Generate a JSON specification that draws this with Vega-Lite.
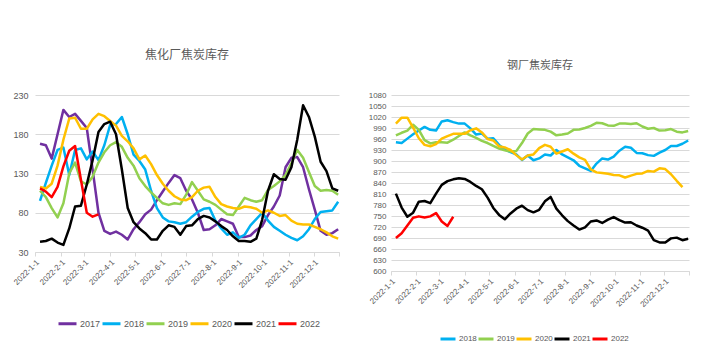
{
"$schema": "https://vega.github.io/schema/vega-lite/v6.json",
"background": "white",
"padding": {"left": 12, "top": 49, "right": 5, "bottom": 5},
"spacing": 23,
"datasets": {
"coke": [
{"s":"2017","d":"2022-01-07","v":168},{"s":"2017","d":"2022-01-14","v":166},{"s":"2017","d":"2022-01-21","v":149},{"s":"2017","d":"2022-01-28","v":180},{"s":"2017","d":"2022-02-04","v":211},{"s":"2017","d":"2022-02-11","v":202},{"s":"2017","d":"2022-02-18","v":206},{"s":"2017","d":"2022-02-25","v":197},{"s":"2017","d":"2022-03-04","v":188},{"s":"2017","d":"2022-03-11","v":135},
{"s":"2017","d":"2022-03-18","v":80},{"s":"2017","d":"2022-03-25","v":57},{"s":"2017","d":"2022-04-01","v":53},{"s":"2017","d":"2022-04-08","v":56},{"s":"2017","d":"2022-04-15","v":52},{"s":"2017","d":"2022-04-22","v":46},{"s":"2017","d":"2022-04-29","v":59},{"s":"2017","d":"2022-05-06","v":68},{"s":"2017","d":"2022-05-13","v":78},{"s":"2017","d":"2022-05-20","v":84},
{"s":"2017","d":"2022-05-27","v":96},{"s":"2017","d":"2022-06-03","v":107},{"s":"2017","d":"2022-06-10","v":118},{"s":"2017","d":"2022-06-17","v":128},{"s":"2017","d":"2022-06-24","v":124},{"s":"2017","d":"2022-07-01","v":108},{"s":"2017","d":"2022-07-08","v":97},{"s":"2017","d":"2022-07-15","v":80},{"s":"2017","d":"2022-07-22","v":58},{"s":"2017","d":"2022-07-29","v":59},
{"s":"2017","d":"2022-08-05","v":64},{"s":"2017","d":"2022-08-12","v":72},{"s":"2017","d":"2022-08-19","v":69},{"s":"2017","d":"2022-08-26","v":66},{"s":"2017","d":"2022-09-02","v":49},{"s":"2017","d":"2022-09-09","v":49},{"s":"2017","d":"2022-09-16","v":51},{"s":"2017","d":"2022-09-23","v":58},{"s":"2017","d":"2022-09-30","v":63},{"s":"2017","d":"2022-10-07","v":77},
{"s":"2017","d":"2022-10-14","v":88},{"s":"2017","d":"2022-10-21","v":102},{"s":"2017","d":"2022-10-28","v":138},{"s":"2017","d":"2022-11-04","v":150},{"s":"2017","d":"2022-11-11","v":151},{"s":"2017","d":"2022-11-18","v":138},{"s":"2017","d":"2022-11-25","v":110},{"s":"2017","d":"2022-12-02","v":84},{"s":"2017","d":"2022-12-09","v":57},{"s":"2017","d":"2022-12-16","v":52},
{"s":"2017","d":"2022-12-23","v":54},{"s":"2017","d":"2022-12-30","v":59},
{"s":"2018","d":"2022-01-07","v":95},{"s":"2018","d":"2022-01-14","v":118},{"s":"2018","d":"2022-01-21","v":140},{"s":"2018","d":"2022-01-28","v":160},{"s":"2018","d":"2022-02-04","v":163},{"s":"2018","d":"2022-02-11","v":128},{"s":"2018","d":"2022-02-18","v":160},{"s":"2018","d":"2022-02-25","v":162},{"s":"2018","d":"2022-03-04","v":148},{"s":"2018","d":"2022-03-11","v":158},
{"s":"2018","d":"2022-03-18","v":147},{"s":"2018","d":"2022-03-25","v":166},{"s":"2018","d":"2022-04-01","v":192},{"s":"2018","d":"2022-04-08","v":193},{"s":"2018","d":"2022-04-15","v":202},{"s":"2018","d":"2022-04-22","v":180},{"s":"2018","d":"2022-04-29","v":154},{"s":"2018","d":"2022-05-06","v":146},{"s":"2018","d":"2022-05-13","v":135},{"s":"2018","d":"2022-05-20","v":108},
{"s":"2018","d":"2022-05-27","v":86},{"s":"2018","d":"2022-06-03","v":74},{"s":"2018","d":"2022-06-10","v":69},{"s":"2018","d":"2022-06-17","v":68},{"s":"2018","d":"2022-06-24","v":66},{"s":"2018","d":"2022-07-01","v":68},{"s":"2018","d":"2022-07-08","v":75},{"s":"2018","d":"2022-07-15","v":81},{"s":"2018","d":"2022-07-22","v":85},{"s":"2018","d":"2022-07-29","v":86},
{"s":"2018","d":"2022-08-05","v":70},{"s":"2018","d":"2022-08-12","v":60},{"s":"2018","d":"2022-08-19","v":52},{"s":"2018","d":"2022-08-26","v":55},{"s":"2018","d":"2022-09-02","v":48},{"s":"2018","d":"2022-09-09","v":52},{"s":"2018","d":"2022-09-16","v":64},{"s":"2018","d":"2022-09-23","v":72},{"s":"2018","d":"2022-09-30","v":80},{"s":"2018","d":"2022-10-07","v":70},
{"s":"2018","d":"2022-10-14","v":62},{"s":"2018","d":"2022-10-21","v":57},{"s":"2018","d":"2022-10-28","v":52},{"s":"2018","d":"2022-11-04","v":48},{"s":"2018","d":"2022-11-11","v":45},{"s":"2018","d":"2022-11-18","v":50},{"s":"2018","d":"2022-11-25","v":59},{"s":"2018","d":"2022-12-02","v":72},{"s":"2018","d":"2022-12-09","v":81},{"s":"2018","d":"2022-12-16","v":82},
{"s":"2018","d":"2022-12-23","v":83},{"s":"2018","d":"2022-12-30","v":94},
{"s":"2019","d":"2022-01-07","v":108},{"s":"2019","d":"2022-01-14","v":100},{"s":"2019","d":"2022-01-21","v":86},{"s":"2019","d":"2022-01-28","v":74},{"s":"2019","d":"2022-02-04","v":92},{"s":"2019","d":"2022-02-11","v":130},{"s":"2019","d":"2022-02-18","v":144},{"s":"2019","d":"2022-02-25","v":120},{"s":"2019","d":"2022-03-04","v":116},{"s":"2019","d":"2022-03-11","v":126},
{"s":"2019","d":"2022-03-18","v":144},{"s":"2019","d":"2022-03-25","v":157},{"s":"2019","d":"2022-04-01","v":166},{"s":"2019","d":"2022-04-08","v":170},{"s":"2019","d":"2022-04-15","v":164},{"s":"2019","d":"2022-04-22","v":150},{"s":"2019","d":"2022-04-29","v":140},{"s":"2019","d":"2022-05-06","v":124},{"s":"2019","d":"2022-05-13","v":114},{"s":"2019","d":"2022-05-20","v":106},
{"s":"2019","d":"2022-05-27","v":99},{"s":"2019","d":"2022-06-03","v":92},{"s":"2019","d":"2022-06-10","v":90},{"s":"2019","d":"2022-06-17","v":92},{"s":"2019","d":"2022-06-24","v":91},{"s":"2019","d":"2022-07-01","v":103},{"s":"2019","d":"2022-07-08","v":119},{"s":"2019","d":"2022-07-15","v":108},{"s":"2019","d":"2022-07-22","v":97},{"s":"2019","d":"2022-07-29","v":94},
{"s":"2019","d":"2022-08-05","v":90},{"s":"2019","d":"2022-08-12","v":84},{"s":"2019","d":"2022-08-19","v":78},{"s":"2019","d":"2022-08-26","v":77},{"s":"2019","d":"2022-09-02","v":88},{"s":"2019","d":"2022-09-09","v":99},{"s":"2019","d":"2022-09-16","v":96},{"s":"2019","d":"2022-09-23","v":94},{"s":"2019","d":"2022-09-30","v":96},{"s":"2019","d":"2022-10-07","v":109},
{"s":"2019","d":"2022-10-14","v":114},{"s":"2019","d":"2022-10-21","v":120},{"s":"2019","d":"2022-10-28","v":128},{"s":"2019","d":"2022-11-04","v":143},{"s":"2019","d":"2022-11-11","v":160},{"s":"2019","d":"2022-11-18","v":150},{"s":"2019","d":"2022-11-25","v":132},{"s":"2019","d":"2022-12-02","v":114},{"s":"2019","d":"2022-12-09","v":108},{"s":"2019","d":"2022-12-16","v":109},
{"s":"2019","d":"2022-12-23","v":108},{"s":"2019","d":"2022-12-30","v":103},
{"s":"2020","d":"2022-01-07","v":113},{"s":"2020","d":"2022-01-14","v":111},{"s":"2020","d":"2022-01-21","v":117},{"s":"2020","d":"2022-01-28","v":140},{"s":"2020","d":"2022-02-04","v":173},{"s":"2020","d":"2022-02-11","v":200},{"s":"2020","d":"2022-02-18","v":201},{"s":"2020","d":"2022-02-25","v":187},{"s":"2020","d":"2022-03-04","v":187},{"s":"2020","d":"2022-03-11","v":199},
{"s":"2020","d":"2022-03-18","v":206},{"s":"2020","d":"2022-03-25","v":203},{"s":"2020","d":"2022-04-01","v":197},{"s":"2020","d":"2022-04-08","v":191},{"s":"2020","d":"2022-04-15","v":178},{"s":"2020","d":"2022-04-22","v":171},{"s":"2020","d":"2022-04-29","v":162},{"s":"2020","d":"2022-05-06","v":148},{"s":"2020","d":"2022-05-13","v":153},{"s":"2020","d":"2022-05-20","v":142},
{"s":"2020","d":"2022-05-27","v":128},{"s":"2020","d":"2022-06-03","v":117},{"s":"2020","d":"2022-06-10","v":108},{"s":"2020","d":"2022-06-17","v":101},{"s":"2020","d":"2022-06-24","v":97},{"s":"2020","d":"2022-07-01","v":96},{"s":"2020","d":"2022-07-08","v":100},{"s":"2020","d":"2022-07-15","v":108},{"s":"2020","d":"2022-07-22","v":112},{"s":"2020","d":"2022-07-29","v":113},
{"s":"2020","d":"2022-08-05","v":100},{"s":"2020","d":"2022-08-12","v":91},{"s":"2020","d":"2022-08-19","v":88},{"s":"2020","d":"2022-08-26","v":86},{"s":"2020","d":"2022-09-02","v":85},{"s":"2020","d":"2022-09-09","v":88},{"s":"2020","d":"2022-09-16","v":87},{"s":"2020","d":"2022-09-23","v":85},{"s":"2020","d":"2022-09-30","v":80},{"s":"2020","d":"2022-10-07","v":83},
{"s":"2020","d":"2022-10-14","v":80},{"s":"2020","d":"2022-10-21","v":76},{"s":"2020","d":"2022-10-28","v":77},{"s":"2020","d":"2022-11-04","v":70},{"s":"2020","d":"2022-11-11","v":66},{"s":"2020","d":"2022-11-18","v":65},{"s":"2020","d":"2022-11-25","v":65},{"s":"2020","d":"2022-12-02","v":62},{"s":"2020","d":"2022-12-09","v":59},{"s":"2020","d":"2022-12-16","v":55},
{"s":"2020","d":"2022-12-23","v":50},{"s":"2020","d":"2022-12-30","v":47},
{"s":"2021","d":"2022-01-07","v":43},{"s":"2021","d":"2022-01-14","v":44},{"s":"2021","d":"2022-01-21","v":47},{"s":"2021","d":"2022-01-28","v":42},{"s":"2021","d":"2022-02-04","v":39},{"s":"2021","d":"2022-02-11","v":60},{"s":"2021","d":"2022-02-18","v":88},{"s":"2021","d":"2022-02-25","v":89},{"s":"2021","d":"2022-03-04","v":116},{"s":"2021","d":"2022-03-11","v":147},
{"s":"2021","d":"2022-03-18","v":183},{"s":"2021","d":"2022-03-25","v":193},{"s":"2021","d":"2022-04-01","v":196},{"s":"2021","d":"2022-04-08","v":180},{"s":"2021","d":"2022-04-15","v":135},{"s":"2021","d":"2022-04-22","v":86},{"s":"2021","d":"2022-04-29","v":68},{"s":"2021","d":"2022-05-06","v":60},{"s":"2021","d":"2022-05-13","v":54},{"s":"2021","d":"2022-05-20","v":46},
{"s":"2021","d":"2022-05-27","v":46},{"s":"2021","d":"2022-06-03","v":57},{"s":"2021","d":"2022-06-10","v":64},{"s":"2021","d":"2022-06-17","v":62},{"s":"2021","d":"2022-06-24","v":52},{"s":"2021","d":"2022-07-01","v":63},{"s":"2021","d":"2022-07-08","v":64},{"s":"2021","d":"2022-07-15","v":72},{"s":"2021","d":"2022-07-22","v":76},{"s":"2021","d":"2022-07-29","v":74},
{"s":"2021","d":"2022-08-05","v":69},{"s":"2021","d":"2022-08-12","v":63},{"s":"2021","d":"2022-08-19","v":58},{"s":"2021","d":"2022-08-26","v":50},{"s":"2021","d":"2022-09-02","v":44},{"s":"2021","d":"2022-09-09","v":44},{"s":"2021","d":"2022-09-16","v":43},{"s":"2021","d":"2022-09-23","v":47},{"s":"2021","d":"2022-09-30","v":71},{"s":"2021","d":"2022-10-07","v":108},
{"s":"2021","d":"2022-10-14","v":129},{"s":"2021","d":"2022-10-21","v":123},{"s":"2021","d":"2022-10-28","v":122},{"s":"2021","d":"2022-11-04","v":138},{"s":"2021","d":"2022-11-11","v":173},{"s":"2021","d":"2022-11-18","v":217},{"s":"2021","d":"2022-11-25","v":202},{"s":"2021","d":"2022-12-02","v":177},{"s":"2021","d":"2022-12-09","v":145},{"s":"2021","d":"2022-12-16","v":133},
{"s":"2021","d":"2022-12-23","v":111},{"s":"2021","d":"2022-12-30","v":108},
{"s":"2022","d":"2022-01-07","v":111},{"s":"2022","d":"2022-01-14","v":107},{"s":"2022","d":"2022-01-21","v":100},{"s":"2022","d":"2022-01-28","v":113},{"s":"2022","d":"2022-02-04","v":139},{"s":"2022","d":"2022-02-11","v":159},{"s":"2022","d":"2022-02-18","v":165},{"s":"2022","d":"2022-02-25","v":122},{"s":"2022","d":"2022-03-04","v":80},{"s":"2022","d":"2022-03-11","v":75},
{"s":"2022","d":"2022-03-18","v":78}
],
"steel": [
{"s":"2018","d":"2022-01-07","v":951},{"s":"2018","d":"2022-01-14","v":949},{"s":"2018","d":"2022-01-21","v":961},{"s":"2018","d":"2022-01-28","v":973},{"s":"2018","d":"2022-02-04","v":983},{"s":"2018","d":"2022-02-11","v":993},{"s":"2018","d":"2022-02-18","v":985},{"s":"2018","d":"2022-02-25","v":983},{"s":"2018","d":"2022-03-04","v":1008},{"s":"2018","d":"2022-03-11","v":1011},
{"s":"2018","d":"2022-03-18","v":1006},{"s":"2018","d":"2022-03-25","v":1002},{"s":"2018","d":"2022-04-01","v":1002},{"s":"2018","d":"2022-04-08","v":989},{"s":"2018","d":"2022-04-15","v":972},{"s":"2018","d":"2022-04-22","v":975},{"s":"2018","d":"2022-04-29","v":961},{"s":"2018","d":"2022-05-06","v":962},{"s":"2018","d":"2022-05-13","v":944},{"s":"2018","d":"2022-05-20","v":932},
{"s":"2018","d":"2022-05-27","v":924},{"s":"2018","d":"2022-06-03","v":918},{"s":"2018","d":"2022-06-10","v":903},{"s":"2018","d":"2022-06-17","v":915},{"s":"2018","d":"2022-06-24","v":902},{"s":"2018","d":"2022-07-01","v":907},{"s":"2018","d":"2022-07-08","v":918},{"s":"2018","d":"2022-07-15","v":915},{"s":"2018","d":"2022-07-22","v":930},{"s":"2018","d":"2022-07-29","v":918},
{"s":"2018","d":"2022-08-05","v":910},{"s":"2018","d":"2022-08-12","v":902},{"s":"2018","d":"2022-08-19","v":887},{"s":"2018","d":"2022-08-26","v":880},{"s":"2018","d":"2022-09-02","v":873},{"s":"2018","d":"2022-09-09","v":893},{"s":"2018","d":"2022-09-16","v":907},{"s":"2018","d":"2022-09-23","v":904},{"s":"2018","d":"2022-09-30","v":912},{"s":"2018","d":"2022-10-07","v":928},
{"s":"2018","d":"2022-10-14","v":939},{"s":"2018","d":"2022-10-21","v":936},{"s":"2018","d":"2022-10-28","v":922},{"s":"2018","d":"2022-11-04","v":921},{"s":"2018","d":"2022-11-11","v":916},{"s":"2018","d":"2022-11-18","v":914},{"s":"2018","d":"2022-11-25","v":923},{"s":"2018","d":"2022-12-02","v":930},{"s":"2018","d":"2022-12-09","v":941},{"s":"2018","d":"2022-12-16","v":941},
{"s":"2018","d":"2022-12-23","v":947},{"s":"2018","d":"2022-12-30","v":956},
{"s":"2019","d":"2022-01-07","v":970},{"s":"2019","d":"2022-01-14","v":977},{"s":"2019","d":"2022-01-21","v":983},{"s":"2019","d":"2022-01-28","v":999},{"s":"2019","d":"2022-02-04","v":985},{"s":"2019","d":"2022-02-11","v":957},{"s":"2019","d":"2022-02-18","v":948},{"s":"2019","d":"2022-02-25","v":951},{"s":"2019","d":"2022-03-04","v":951},{"s":"2019","d":"2022-03-11","v":950},
{"s":"2019","d":"2022-03-18","v":958},{"s":"2019","d":"2022-03-25","v":968},{"s":"2019","d":"2022-04-01","v":978},{"s":"2019","d":"2022-04-08","v":970},{"s":"2019","d":"2022-04-15","v":963},{"s":"2019","d":"2022-04-22","v":955},{"s":"2019","d":"2022-04-29","v":949},{"s":"2019","d":"2022-05-06","v":941},{"s":"2019","d":"2022-05-13","v":934},{"s":"2019","d":"2022-05-20","v":929},
{"s":"2019","d":"2022-05-27","v":926},{"s":"2019","d":"2022-06-03","v":927},{"s":"2019","d":"2022-06-10","v":949},{"s":"2019","d":"2022-06-17","v":975},{"s":"2019","d":"2022-06-24","v":987},{"s":"2019","d":"2022-07-01","v":986},{"s":"2019","d":"2022-07-08","v":985},{"s":"2019","d":"2022-07-15","v":980},{"s":"2019","d":"2022-07-22","v":970},{"s":"2019","d":"2022-07-29","v":972},
{"s":"2019","d":"2022-08-05","v":975},{"s":"2019","d":"2022-08-12","v":985},{"s":"2019","d":"2022-08-19","v":986},{"s":"2019","d":"2022-08-26","v":990},{"s":"2019","d":"2022-09-02","v":996},{"s":"2019","d":"2022-09-09","v":1004},{"s":"2019","d":"2022-09-16","v":1003},{"s":"2019","d":"2022-09-23","v":997},{"s":"2019","d":"2022-09-30","v":996},{"s":"2019","d":"2022-10-07","v":1002},
{"s":"2019","d":"2022-10-14","v":1002},{"s":"2019","d":"2022-10-21","v":1001},{"s":"2019","d":"2022-10-28","v":1003},{"s":"2019","d":"2022-11-04","v":994},{"s":"2019","d":"2022-11-11","v":988},{"s":"2019","d":"2022-11-18","v":990},{"s":"2019","d":"2022-11-25","v":983},{"s":"2019","d":"2022-12-02","v":984},{"s":"2019","d":"2022-12-09","v":987},{"s":"2019","d":"2022-12-16","v":980},
{"s":"2019","d":"2022-12-23","v":978},{"s":"2019","d":"2022-12-30","v":982},
{"s":"2020","d":"2022-01-07","v":1002},{"s":"2020","d":"2022-01-14","v":1018},{"s":"2020","d":"2022-01-21","v":1018},{"s":"2020","d":"2022-01-28","v":991},{"s":"2020","d":"2022-02-04","v":962},{"s":"2020","d":"2022-02-11","v":944},{"s":"2020","d":"2022-02-18","v":940},{"s":"2020","d":"2022-02-25","v":946},{"s":"2020","d":"2022-03-04","v":961},{"s":"2020","d":"2022-03-11","v":968},
{"s":"2020","d":"2022-03-18","v":974},{"s":"2020","d":"2022-03-25","v":974},{"s":"2020","d":"2022-04-01","v":974},{"s":"2020","d":"2022-04-08","v":984},{"s":"2020","d":"2022-04-15","v":989},{"s":"2020","d":"2022-04-22","v":978},{"s":"2020","d":"2022-04-29","v":960},{"s":"2020","d":"2022-05-06","v":956},{"s":"2020","d":"2022-05-13","v":940},{"s":"2020","d":"2022-05-20","v":937},
{"s":"2020","d":"2022-05-27","v":930},{"s":"2020","d":"2022-06-03","v":916},{"s":"2020","d":"2022-06-10","v":904},{"s":"2020","d":"2022-06-17","v":915},{"s":"2020","d":"2022-06-24","v":918},{"s":"2020","d":"2022-07-01","v":935},{"s":"2020","d":"2022-07-08","v":944},{"s":"2020","d":"2022-07-15","v":939},{"s":"2020","d":"2022-07-22","v":920},{"s":"2020","d":"2022-07-29","v":926},
{"s":"2020","d":"2022-08-05","v":932},{"s":"2020","d":"2022-08-12","v":920},{"s":"2020","d":"2022-08-19","v":910},{"s":"2020","d":"2022-08-26","v":903},{"s":"2020","d":"2022-09-02","v":877},{"s":"2020","d":"2022-09-09","v":869},{"s":"2020","d":"2022-09-16","v":867},{"s":"2020","d":"2022-09-23","v":865},{"s":"2020","d":"2022-09-30","v":862},{"s":"2020","d":"2022-10-07","v":861},
{"s":"2020","d":"2022-10-14","v":855},{"s":"2020","d":"2022-10-21","v":860},{"s":"2020","d":"2022-10-28","v":865},{"s":"2020","d":"2022-11-04","v":866},{"s":"2020","d":"2022-11-11","v":873},{"s":"2020","d":"2022-11-18","v":871},{"s":"2020","d":"2022-11-25","v":880},{"s":"2020","d":"2022-12-02","v":878},{"s":"2020","d":"2022-12-09","v":864},{"s":"2020","d":"2022-12-16","v":846},
{"s":"2020","d":"2022-12-23","v":829},
{"s":"2021","d":"2022-01-07","v":811},{"s":"2021","d":"2022-01-14","v":773},{"s":"2021","d":"2022-01-21","v":748},{"s":"2021","d":"2022-01-28","v":759},{"s":"2021","d":"2022-02-04","v":789},{"s":"2021","d":"2022-02-11","v":791},{"s":"2021","d":"2022-02-18","v":785},{"s":"2021","d":"2022-02-25","v":811},{"s":"2021","d":"2022-03-04","v":835},{"s":"2021","d":"2022-03-11","v":845},
{"s":"2021","d":"2022-03-18","v":850},{"s":"2021","d":"2022-03-25","v":853},{"s":"2021","d":"2022-04-01","v":851},{"s":"2021","d":"2022-04-08","v":843},{"s":"2021","d":"2022-04-15","v":832},{"s":"2021","d":"2022-04-22","v":823},{"s":"2021","d":"2022-04-29","v":800},{"s":"2021","d":"2022-05-06","v":772},{"s":"2021","d":"2022-05-13","v":753},{"s":"2021","d":"2022-05-20","v":741},
{"s":"2021","d":"2022-05-27","v":757},{"s":"2021","d":"2022-06-03","v":770},{"s":"2021","d":"2022-06-10","v":778},{"s":"2021","d":"2022-06-17","v":766},{"s":"2021","d":"2022-06-24","v":760},{"s":"2021","d":"2022-07-01","v":767},{"s":"2021","d":"2022-07-08","v":790},{"s":"2021","d":"2022-07-15","v":802},{"s":"2021","d":"2022-07-22","v":770},{"s":"2021","d":"2022-07-29","v":752},
{"s":"2021","d":"2022-08-05","v":736},{"s":"2021","d":"2022-08-12","v":724},{"s":"2021","d":"2022-08-19","v":713},{"s":"2021","d":"2022-08-26","v":719},{"s":"2021","d":"2022-09-02","v":735},{"s":"2021","d":"2022-09-09","v":738},{"s":"2021","d":"2022-09-16","v":731},{"s":"2021","d":"2022-09-23","v":740},{"s":"2021","d":"2022-09-30","v":747},{"s":"2021","d":"2022-10-07","v":739},
{"s":"2021","d":"2022-10-14","v":732},{"s":"2021","d":"2022-10-21","v":733},{"s":"2021","d":"2022-10-28","v":724},{"s":"2021","d":"2022-11-04","v":718},{"s":"2021","d":"2022-11-11","v":710},{"s":"2021","d":"2022-11-18","v":684},{"s":"2021","d":"2022-11-25","v":678},{"s":"2021","d":"2022-12-02","v":678},{"s":"2021","d":"2022-12-09","v":689},{"s":"2021","d":"2022-12-16","v":691},
{"s":"2021","d":"2022-12-23","v":684},{"s":"2021","d":"2022-12-30","v":688},
{"s":"2022","d":"2022-01-07","v":690},{"s":"2022","d":"2022-01-14","v":703},{"s":"2022","d":"2022-01-21","v":724},{"s":"2022","d":"2022-01-28","v":745},{"s":"2022","d":"2022-02-04","v":749},{"s":"2022","d":"2022-02-11","v":746},{"s":"2022","d":"2022-02-18","v":749},{"s":"2022","d":"2022-02-25","v":758},{"s":"2022","d":"2022-03-04","v":735},{"s":"2022","d":"2022-03-11","v":723},
{"s":"2022","d":"2022-03-18","v":748}
]
},
"hconcat": [
{
"width": 304, "height": 157,
"title": {"text": "焦化厂焦炭库存", "fontSize": 12, "offset": 29},
"data": {"name": "coke"},
"mark": {"type": "line", "strokeWidth": 2.5, "strokeJoin": "round"},
"encoding": {
"x": {"field": "d", "type": "temporal", "title": null,
"scale": {"type": "utc", "domain": [{"year": 2022, "month": 1, "date": 1, "utc": true}, {"year": 2022, "month": 12, "date": 31, "utc": true}]},
"axis": {"values": [{"year":2022,"month":1,"date":1,"utc":true},{"year":2022,"month":2,"date":1,"utc":true},{"year":2022,"month":3,"date":1,"utc":true},{"year":2022,"month":4,"date":1,"utc":true},{"year":2022,"month":5,"date":1,"utc":true},{"year":2022,"month":6,"date":1,"utc":true},{"year":2022,"month":7,"date":1,"utc":true},{"year":2022,"month":8,"date":1,"utc":true},{"year":2022,"month":9,"date":1,"utc":true},{"year":2022,"month":10,"date":1,"utc":true},{"year":2022,"month":11,"date":1,"utc":true},{"year":2022,"month":12,"date":1,"utc":true},{"year":2022,"month":12,"date":31,"utc":true}],
"labelExpr": "utcdate(datum.value) == 31 ? '' : utcFormat(datum.value, '%Y-%-m-%-d')",
"labelAngle": -45, "labelOverlap": false, "labelFontSize": 8, "grid": false, "tickSize": 4, "labelPadding": 2}},
"y": {"field": "v", "type": "quantitative", "title": null,
"scale": {"domain": [30, 230], "nice": false, "zero": false},
"axis": {"values": [30, 80, 130, 180, 230], "domain": false, "ticks": false, "labelPadding": 7}},
"color": {"field": "s", "type": "nominal",
"scale": {"domain": ["2017","2018","2019","2020","2021","2022"], "range": ["#7030A0","#00B0F0","#92D050","#FFC000","#000000","#FF0000"]},
"legend": {"orient": "none", "legendX": 22, "legendY": 218, "direction": "horizontal", "columns": 6, "title": null, "symbolType": "stroke", "symbolStrokeWidth": 3, "symbolSize": 324, "labelFontSize": 9, "labelOffset": 2, "columnPadding": -6}}
}
},
{
"width": 298, "height": 176,
"title": {"text": "钢厂焦炭库存", "fontSize": 11, "offset": 20},
"data": {"name": "steel"},
"mark": {"type": "line", "strokeWidth": 2.5, "strokeJoin": "round"},
"encoding": {
"x": {"field": "d", "type": "temporal", "title": null,
"scale": {"type": "utc", "domain": [{"year": 2022, "month": 1, "date": 1, "utc": true}, {"year": 2022, "month": 12, "date": 31, "utc": true}]},
"axis": {"values": [{"year":2022,"month":1,"date":1,"utc":true},{"year":2022,"month":2,"date":1,"utc":true},{"year":2022,"month":3,"date":1,"utc":true},{"year":2022,"month":4,"date":1,"utc":true},{"year":2022,"month":5,"date":1,"utc":true},{"year":2022,"month":6,"date":1,"utc":true},{"year":2022,"month":7,"date":1,"utc":true},{"year":2022,"month":8,"date":1,"utc":true},{"year":2022,"month":9,"date":1,"utc":true},{"year":2022,"month":10,"date":1,"utc":true},{"year":2022,"month":11,"date":1,"utc":true},{"year":2022,"month":12,"date":1,"utc":true},{"year":2022,"month":12,"date":31,"utc":true}],
"labelExpr": "utcdate(datum.value) == 31 ? '' : utcFormat(datum.value, '%Y-%-m-%-d')",
"labelAngle": -45, "labelOverlap": false, "labelFontSize": 8, "grid": false, "tickSize": 4, "labelPadding": 2}},
"y": {"field": "v", "type": "quantitative", "title": null,
"scale": {"domain": [600, 1080], "nice": false, "zero": false},
"axis": {"values": [600,630,660,690,720,750,780,810,840,870,900,930,960,990,1020,1050,1080], "format": "d", "domain": false, "ticks": false, "labelPadding": 5, "labelFontSize": 8}},
"color": {"field": "s", "type": "nominal",
"scale": {"domain": ["2018","2019","2020","2021","2022"], "range": ["#00B0F0","#92D050","#FFC000","#000000","#FF0000"]},
"legend": {"orient": "none", "legendX": 48, "legendY": 235, "direction": "horizontal", "columns": 5, "title": null, "symbolType": "stroke", "symbolStrokeWidth": 3, "symbolSize": 225, "labelFontSize": 8, "labelOffset": 2, "columnPadding": -5}}
}
}
],
"resolve": {"scale": {"color": "independent", "x": "independent", "y": "independent"}, "legend": {"color": "independent"}},
"config": {
"font": "Liberation Sans",
"view": {"stroke": null},
"title": {"font": "Noto Sans CJK SC", "fontWeight": "normal", "color": "#595959", "anchor": "middle"},
"axis": {"labelColor": "#595959", "labelFontSize": 9, "domainColor": "#d9d9d9", "tickColor": "#d9d9d9", "gridColor": "#d9d9d9", "gridWidth": 1},
"legend": {"labelColor": "#595959"}
}
}
